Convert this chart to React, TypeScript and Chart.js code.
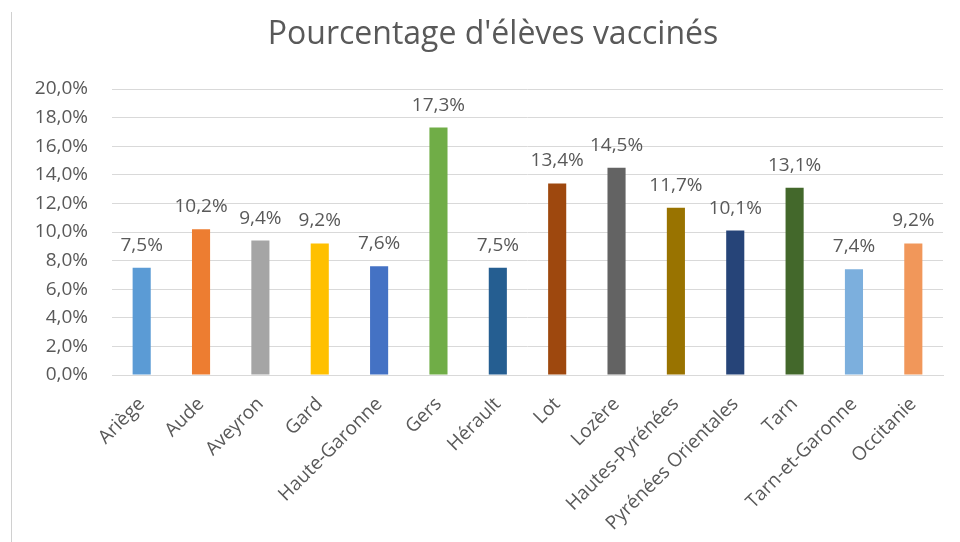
import React, { useEffect, useRef } from "react";
import { Chart, registerables } from "chart.js";

Chart.register(...registerables);

const categories = [
  "Ariège", "Aude", "Aveyron", "Gard", "Haute-Garonne", "Gers", "Hérault",
  "Lot", "Lozère", "Hautes-Pyrénées", "Pyrénées Orientales", "Tarn",
  "Tarn-et-Garonne", "Occitanie",
];
const values = [7.5, 10.2, 9.4, 9.2, 7.6, 17.3, 7.5, 13.4, 14.5, 11.7, 10.1, 13.1, 7.4, 9.2];
const barColors = [
  "#5B9BD5", "#ED7D31", "#A5A5A5", "#FFC000", "#4472C4", "#70AD47", "#255E91",
  "#9E480E", "#636363", "#997300", "#264478", "#43682B", "#7CAFDD", "#F1975A",
];
const title = "Pourcentage d'élèves vaccinés";
const yMin = 0;
const yMax = 20;
const yStep = 2;

const FONT = "'Open Sans', 'Noto Sans', sans-serif";
const TEXT = "#595959";

const fmt = (v: number) => v.toFixed(1).replace(".", ",") + "%";

const dataLabels = {
  id: "dataLabels",
  afterDatasetsDraw(chart: any) {
    const ctx = chart.ctx;
    const meta = chart.getDatasetMeta(0);
    ctx.save();
    ctx.font = `19px ${FONT}`;
    ctx.fillStyle = TEXT;
    ctx.textAlign = "center";
    ctx.textBaseline = "alphabetic";
    meta.data.forEach((el: any, i: number) => {
      ctx.fillText(fmt(values[i]), el.x, el.y - 17);
    });
    ctx.restore();
  },
};

const titlePlugin = {
  id: "customTitle",
  afterDraw(chart: any) {
    const ctx = chart.ctx;
    ctx.save();
    ctx.font = `32px ${FONT}`;
    ctx.fillStyle = TEXT;
    ctx.textAlign = "center";
    ctx.textBaseline = "alphabetic";
    ctx.fillText(title, 493, 44);
    ctx.restore();
  },
};

export default function App() {
  const ref = useRef<HTMLCanvasElement | null>(null);
  useEffect(() => {
    if (!ref.current) return;
    const chart = new Chart(ref.current, {
      type: "bar",
      data: {
        labels: categories,
        datasets: [
          {
            data: values,
            backgroundColor: barColors,
            barPercentage: 0.5,
            categoryPercentage: 0.61,
          },
        ],
      },
      options: {
        animation: false,
        responsive: false,
        maintainAspectRatio: false,
        layout: { padding: { left: 0, right: 17, top: 89, bottom: 0 } },
        plugins: {
          legend: { display: false },
          tooltip: { enabled: false },
          title: { display: false },
        },
        scales: {
          x: {
            grid: { display: false, drawTicks: false },
            border: { display: true, color: "#D9D9D9", width: 1 },
            ticks: {
              color: TEXT,
              font: { family: FONT, size: 19 },
              minRotation: 45,
              maxRotation: 45,
              autoSkip: false,
              padding: 18,
            },
            afterFit: (s: any) => {
              s.height = 167;
            },
          },
          y: {
            min: yMin,
            max: yMax,
            grid: { color: "#D9D9D9", drawTicks: false },
            border: { display: false },
            ticks: {
              stepSize: yStep,
              color: TEXT,
              font: { family: FONT, size: 19 },
              padding: 24,
              callback: (v: any) => fmt(Number(v)),
            },
            afterFit: (s: any) => {
              s.width = 112;
            },
          },
        },
      },
      plugins: [dataLabels, titlePlugin],
    });
    return () => chart.destroy();
  }, []);
  return (
    <div style={{ position: "fixed", left: 0, top: 0, width: 960, height: 542, background: "#fff" }}>
      <div style={{ position: "absolute", left: 11, top: 12, width: 0, height: 530, borderLeft: "1px solid #D0D0D0" }} />
      <canvas ref={ref} width={960} height={542} style={{ position: "absolute", left: 0, top: 0 }} />
    </div>
  );
}
